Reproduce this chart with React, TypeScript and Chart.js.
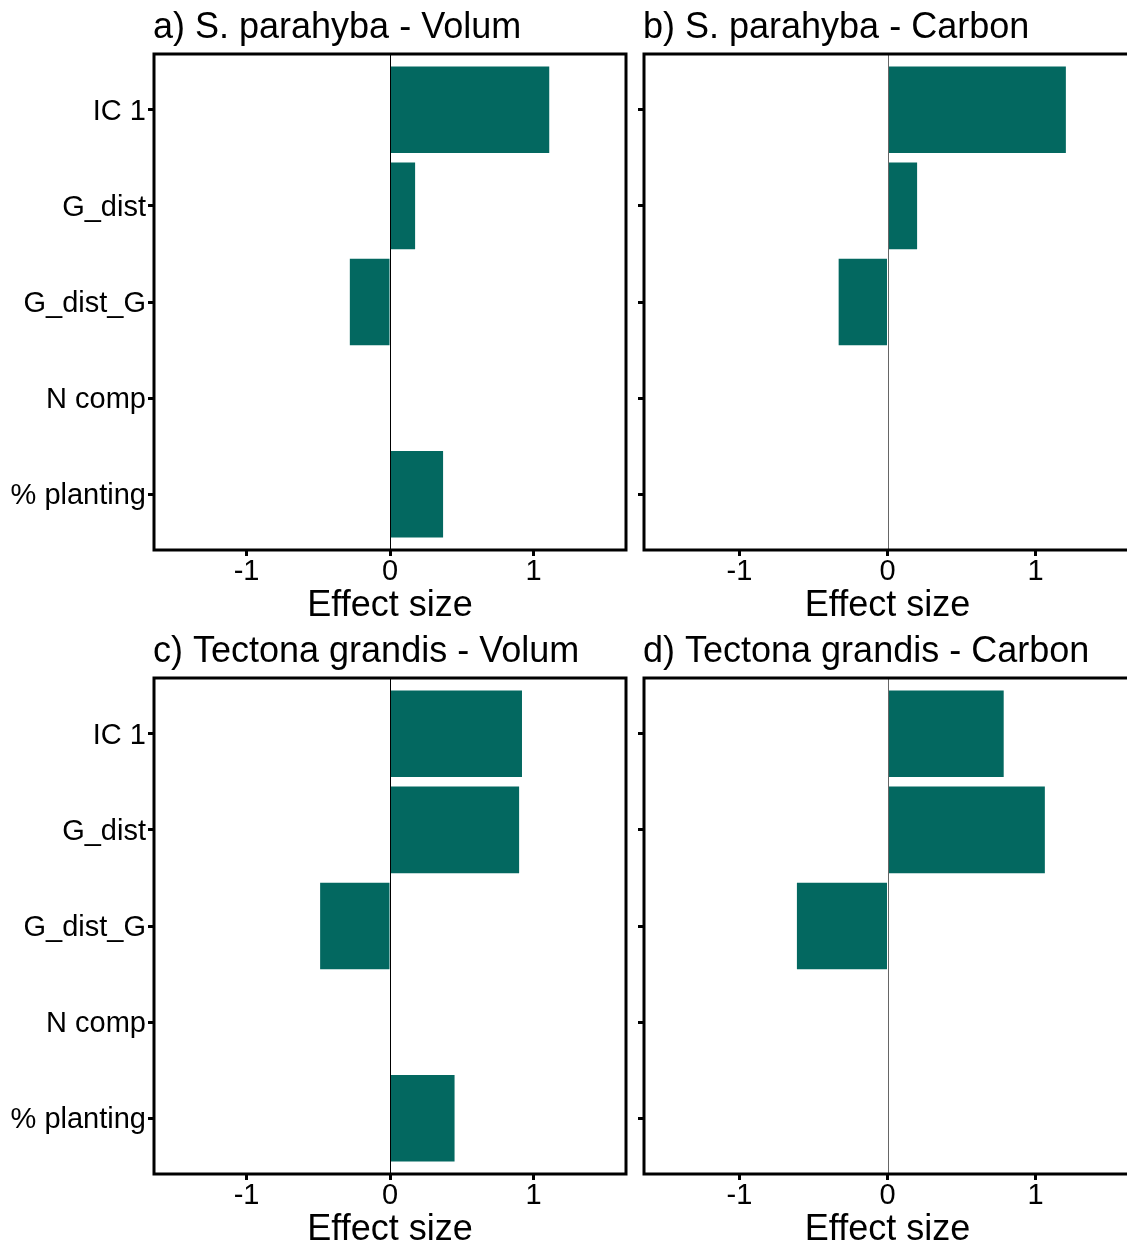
import React, { useEffect, useRef } from "react";
import { Chart, registerables } from "chart.js";

Chart.register(...registerables);

// Predictors, top to bottom
const CATEGORIES = ["IC 1", "G_dist", "G_dist_G", "N comp", "% planting"];
const X_TICKS = [-1, 0, 1];
const X_TITLE = "Effect size";

// Effect sizes per predictor (null = not in the model)
const SP_VOLUM = [1.11, 0.175, -0.28, null, 0.37];
const SP_CARBON = [1.205, 0.2, -0.33, null, null];
const TG_VOLUM = [0.92, 0.9, -0.487, null, 0.45];
const TG_CARBON = [0.785, 1.063, -0.612, null, null];

const TITLES = [
  "a) S. parahyba - Volum",
  "b) S. parahyba - Carbon",
  "c) Tectona grandis - Volum",
  "d) Tectona grandis - Carbon",
];

const X_MIN = -1.645;
const X_MAX = 1.645;
const Y_PAD = 0.58;
const FONT = "'Liberation Sans', Arial, Helvetica, sans-serif";
const BAR_COLOR = "#036860";
const PANEL_H = 624;

type PanelProps = {
  title: string;
  values: (number | null)[];
  showLabels: boolean;
  zeroColor: string;
  left: number;
  top: number;
  width: number;
  axisWidth: number;
};

function Panel({ title, values, showLabels, zeroColor, left, top, width, axisWidth }: PanelProps) {
  const ref = useRef<HTMLCanvasElement | null>(null);

  useEffect(() => {
    if (!ref.current) return;

    const framePlugin = {
      id: "frame",
      afterDatasetsDraw(chart: any) {
        const { ctx, chartArea, scales } = chart;
        const x0 = Math.round(scales.x.getPixelForValue(0)) + 0.5;
        ctx.save();
        ctx.strokeStyle = zeroColor;
        ctx.lineWidth = 1;
        ctx.beginPath();
        ctx.moveTo(x0, chartArea.top);
        ctx.lineTo(x0, chartArea.bottom);
        ctx.stroke();
        ctx.restore();
      },
      afterDraw(chart: any) {
        const { ctx, chartArea } = chart;
        ctx.save();
        ctx.strokeStyle = "#000";
        ctx.lineWidth = 3;
        ctx.strokeRect(
          chartArea.left,
          chartArea.top,
          chartArea.right - chartArea.left,
          chartArea.bottom - chartArea.top
        );
        ctx.fillStyle = "#000";
        ctx.textBaseline = "alphabetic";
        ctx.font = `36px ${FONT}`;
        ctx.textAlign = "left";
        ctx.fillText(title, chartArea.left - 1, 38);
        ctx.textAlign = "center";
        ctx.fillText(X_TITLE, (chartArea.left + chartArea.right) / 2, chartArea.bottom + 66);
        ctx.restore();
      },
    };

    const tickGrid = {
      display: true,
      offset: false,
      drawOnChartArea: false,
      drawTicks: true,
      tickLength: 6,
      tickWidth: 3,
      tickColor: "#000",
    };

    const chart = new Chart(ref.current, {
      type: "bar",
      data: {
        datasets: [
          {
            data: values.map((v, i) => ({ x: v, y: i })) as any,
            backgroundColor: BAR_COLOR,
            borderWidth: 0,
            barPercentage: 0.9,
            categoryPercentage: 1,
          },
        ],
      },
      options: {
        indexAxis: "y",
        animation: false,
        responsive: false,
        devicePixelRatio: 1,
        layout: { padding: { top: 54, right: 10, left: 0, bottom: 0 } },
        plugins: {
          legend: { display: false },
          tooltip: { enabled: false },
        },
        scales: {
          x: {
            type: "linear",
            offset: false,
            min: X_MIN,
            max: X_MAX,
            afterBuildTicks: (s: any) => {
              s.ticks = X_TICKS.map((v) => ({ value: v }));
            },
            afterFit: (s: any) => {
              s.height = 74;
            },
            grid: tickGrid,
            border: { display: false },
            ticks: {
              font: { family: FONT, size: 29 },
              color: "#000",
              padding: -1,
              maxRotation: 0,
              callback: (v: any) => String(v),
            },
          },
          y: {
            type: "linear",
            offset: false,
            reverse: true,
            min: -Y_PAD,
            max: CATEGORIES.length - 1 + Y_PAD,
            afterBuildTicks: (s: any) => {
              s.ticks = CATEGORIES.map((_, i) => ({ value: i }));
            },
            afterFit: (s: any) => {
              s.width = axisWidth;
            },
            grid: tickGrid,
            border: { display: false },
            ticks: {
              font: { family: FONT, size: 29 },
              color: "#000",
              padding: 2,
              labelOffset: 2,
              callback: (v: any) => (showLabels ? CATEGORIES[v] : ""),
            },
          },
        },
      } as any,
      plugins: [framePlugin],
    });

    return () => chart.destroy();
  }, []);

  return (
    <canvas
      ref={ref}
      width={width}
      height={PANEL_H}
      style={{ position: "absolute", left, top, width, height: PANEL_H }}
    />
  );
}

export default function App() {
  return (
    <div
      style={{
        position: "absolute",
        left: 0,
        top: 0,
        width: 1127,
        height: 1245,
        overflow: "hidden",
        background: "#fff",
      }}
    >
      <Panel title={TITLES[0]} values={SP_VOLUM} showLabels zeroColor="#000" left={0} top={0} width={636} axisWidth={154} />
      <Panel title={TITLES[1]} values={SP_CARBON} showLabels={false} zeroColor="#666" left={636} top={0} width={505} axisWidth={8} />
      <Panel title={TITLES[2]} values={TG_VOLUM} showLabels zeroColor="#000" left={0} top={PANEL_H} width={636} axisWidth={154} />
      <Panel title={TITLES[3]} values={TG_CARBON} showLabels={false} zeroColor="#666" left={636} top={PANEL_H} width={505} axisWidth={8} />
    </div>
  );
}
